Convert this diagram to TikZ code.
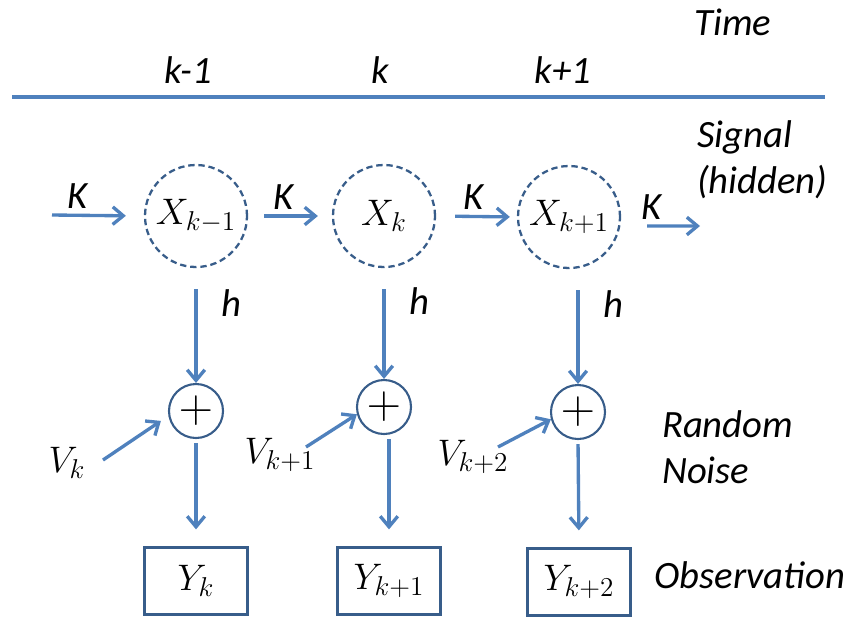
\RequirePackage{fix-cm}
\documentclass[tikz,border=0pt]{standalone}
\usepackage{fontspec}
\setmainfont{Carlito}
\usetikzlibrary{arrows.meta, calc}
\DeclareMathSizes{21}{21}{15.5}{11}
\definecolor{lineblue}{HTML}{4F81BD}
\definecolor{edgeblue}{HTML}{385D8A}
\tikzset{
    state/.style={circle, draw=edgeblue, dashed, dash pattern=on 3.6pt off 2.2pt,
        line width=1.3pt, minimum size=2.04cm, inner sep=0pt, font=\fontsize{21}{25}\selectfont},
    adder/.style={circle, draw=edgeblue, line width=1.2pt, minimum size=1.08cm,
        inner sep=0pt, font=\fontsize{27}{30}\selectfont},
    obs/.style={rectangle, draw=edgeblue, line width=1.3pt, minimum width=2.06cm,
        minimum height=1.34cm, inner sep=0pt, font=\fontsize{21}{25}\selectfont},
    arr/.style={-{Straight Barb[length=6pt, width=10pt]}, line width=1.9pt, draw=lineblue},
    rule/.style={line width=2.3pt, draw=lineblue},
    lbl/.style={font=\fontsize{22}{26}\selectfont\itshape, inner sep=1pt, align=left},
    mlbl/.style={font=\fontsize{21}{25}\selectfont, inner sep=1pt}
}

\begin{document}
\begin{tikzpicture}
\useasboundingbox (0,0) rectangle (17.04,-12.32);
%% LAYOUT:
%% y= -1.4 : time steps k-1, k, k+1 over the rule
%% y= -4.3 : hidden states X
%% y= -8.2 : adders (+ noise V)
%% y=-11.6 : observations Y

%% ── TIME AXIS ───────────────────────────────────────────────────
\node[lbl, anchor=west] (time) at (13.85,-0.44) {Time};
\node[lbl] (tkm1) at (3.76,-1.40) {k-1};
\node[lbl] (tk)   at (7.60,-1.40) {k};
\node[lbl] (tkp1) at (11.26,-1.40) {k+1};
\coordinate (tl) at (0.24,-1.94);
\coordinate (tr) at (16.5,-1.94);
\draw[rule] (tl) -- (tr);

%% ── SIGNAL ──────────────────────────────────────────────────────
\node[state] (x1) at (3.92,-4.32)  {$X_{k-1}$};
\node[state] (x2) at (7.68,-4.32)  {$X_{k}$};
\node[state] (x3) at (11.38,-4.34) {$X_{k+1}$};
\node[lbl, anchor=west] (signal) at (13.9,-3.20) {Signal\\(hidden)};

\coordinate (in)  at (1.04,-4.30);
\coordinate (out) at (14.0,-4.52);

\draw[arr, shorten >=0.36cm] (in) --
    node[lbl, above=2pt, pos=0.28]{K} (x1.west);
\draw[arr, shorten <=0.32cm, shorten >=0.28cm] (x1.east) --
    node[lbl, above=2pt, pos=0.42]{K} (x2.west);
\draw[arr, shorten <=0.38cm, shorten >=0.14cm] (x2.east) --
    node[lbl, above=2pt, pos=0.46]{K} (x3.west);
\draw[arr, shorten <=0.52cm] ([yshift=-0.18cm]x3.east) --
    node[lbl, above=2pt, pos=0.39]{K} (out);

%% ── RANDOM NOISE ────────────────────────────────────────────────
\node[adder] (p1) at (3.92,-8.22)  {$+$};
\node[adder] (p2) at (7.68,-8.14)  {$+$};
\node[adder] (p3) at (11.56,-8.24) {$+$};
\node[lbl, anchor=west] (noise) at (13.2,-8.94) {Random\\Noise};

\draw[arr, shorten <=0.42cm] (x1.south) --
    node[lbl, right=0.45cm, pos=0.3]{h} (p1.north);
\draw[arr, shorten <=0.42cm] (x2.south) --
    node[lbl, right=0.45cm, pos=0.3]{h} (p2.north);
\draw[arr, shorten <=0.42cm] (p3.north |- x3.south) --
    node[lbl, right=0.45cm, pos=0.3]{h} (p3.north);

\node[mlbl] (v1) at (1.34,-9.26) {$V_{k}$};
\node[mlbl] (v2) at (5.60,-9.10) {$V_{k+1}$};
\node[mlbl] (v3) at (9.46,-9.14) {$V_{k+2}$};
\coordinate (v1s) at (2.06,-9.20);
\coordinate (v2s) at (6.12,-8.94);
\coordinate (v3s) at (9.96,-8.94);

\draw[arr, shorten >=0.18cm] (v1s) -- (p1.190);
\draw[arr] (v2s) -- (p2.195);
\draw[arr] (v3s) -- (p3.195);

%% ── OBSERVATION ─────────────────────────────────────────────────
\node[obs] (y1) at (3.92,-11.62) {$Y_{k}$};
\node[obs] (y2) at (7.78,-11.62) {$Y_{k+1}$};
\node[obs] (y3) at (11.58,-11.64) {$Y_{k+2}$};
\node[lbl, anchor=west] (observ) at (13.05,-11.5) {Observation};

\draw[arr, shorten <=0.08cm, shorten >=0.34cm] (p1.south) -- (y1.north);
\draw[arr, shorten <=0.08cm, shorten >=0.34cm] (y2.north |- p2.south) -- (y2.north);
\draw[arr, shorten <=0.08cm, shorten >=0.34cm] (p3.south) -- (y3.north);

\end{tikzpicture}
\end{document}
